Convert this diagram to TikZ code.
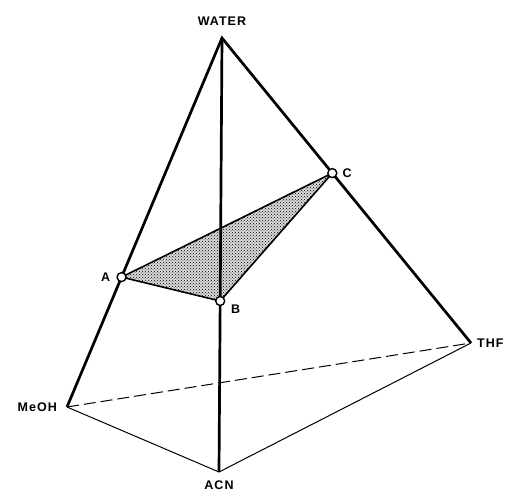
\documentclass[tikz,border=0pt]{standalone}
\usepackage{fontspec}
\newfontfamily\labelfont[LetterSpace=8]{Liberation Sans}
\usetikzlibrary{positioning,calc,patterns}
\tikzstyle{side} = [draw, line width=2.7pt, line join=miter]
\tikzstyle{rim} = [draw, line width=1pt]
\tikzstyle{hidden} = [draw, line width=1pt, dash pattern=on 12pt off 5pt]
\tikzstyle{region} = [draw, line width=1.6pt, line join=round, preaction={fill=gray!30}, pattern=crosshatch dots]
\tikzstyle{corner} = [draw, circle, fill=white, line width=1.4pt, inner sep=0pt, minimum size=9pt]
\tikzstyle{tag} = [font=\labelfont\bfseries\fontsize{12.5}{12.5}\selectfont, inner sep=0pt]

\begin{document}
\begin{tikzpicture}[x=1pt, y=-1pt]
    \useasboundingbox (0,0) rectangle (509,492);
    \coordinate (water) at (222,38);
    \coordinate (meoh) at (67,407);
    \coordinate (acn) at (219,472);
    \coordinate (thf) at (471,343);
    \coordinate (pa) at ($(water)!0.648!(meoh)$);
    \coordinate (pb) at ($(water)!0.606!(acn)$);
    \coordinate (pc) at ($(water)!0.443!(thf)$);

    \path [region] (pa) -- (pc) -- (pb) -- cycle;

    \path [hidden] (meoh) -- (thf);
    \path [rim] (meoh) -- (acn) -- (thf);
    \path [side] (meoh) -- (water) -- (thf);
    \path [side] (water) -- (acn);

    \node [corner] (a) at (pa) {};
    \node [corner] (b) at (pb) {};
    \node [corner] (c) at (pc) {};

    \node [tag, above=12pt of water] (lwater) {WATER};
    \node [tag, left=10pt of meoh] (lmeoh) {MeOH};
    \node [tag, below=9pt of acn] (lacn) {ACN};
    \node [tag, right=6pt of thf] (lthf) {THF};
    \node [tag, left=6pt of a] (la) {A};
    \node [tag, below right=0pt and 7pt of b] (lb) {B};
    \node [tag, right=5pt of c] (lc) {C};
\end{tikzpicture}
\end{document}
